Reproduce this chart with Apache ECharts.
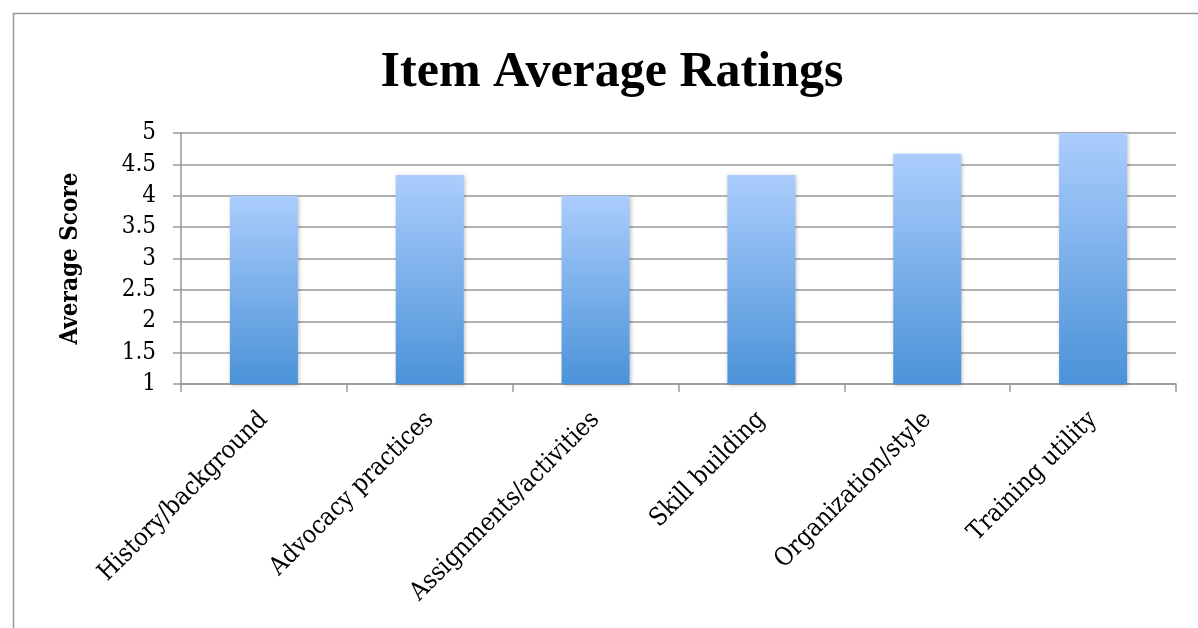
<!DOCTYPE html>
<html>
<head>
<meta charset="utf-8">
<script src="https://cdn.jsdelivr.net/npm/echarts@6/dist/echarts.min.js"></script>
<style>
html,body{margin:0;padding:0;background:#fff;}
#c{width:1198px;height:628px;}
</style>
</head>
<body>
<div id="c"></div>
<script>
var categories = ["History/background","Advocacy practices","Assignments/activities","Skill building","Organization/style","Training utility"];
var values = [4.0, 4.33, 4.0, 4.33, 4.67, 5.0];
var yMin = 1, yMax = 5, yStep = 0.5;

var serif = '"Liberation Serif", "DejaVu Serif", serif';
var labelFont = '"DejaVu Serif Condensed", "DejaVu Serif", serif';
var chart = echarts.init(document.getElementById('c'), null, {renderer:'canvas'});
chart.setOption({
  animation: false,
  backgroundColor: '#fff',
  graphic: [{
    type: 'rect', left: 11, top: 11, shape: {width: 1300, height: 700},
    style: {fill: 'none', stroke: '#999', lineWidth: 1.5}, z: -1
  }],
  title: {
    text: 'Item Average Ratings', left: 607, top: 43, textAlign: 'center',
    textStyle: {fontFamily: serif, fontWeight: 'bold', fontSize: 50, color: '#000'}
  },
  grid: {left: 181, right: 22, top: 133, bottom: 244, containLabel: false},
  xAxis: {
    type: 'category', data: categories,
    axisLine: {lineStyle: {color: '#999', width: 1.5}},
    axisTick: {show: true, length: 8, lineStyle: {color: '#999', width: 1.5}, alignWithLabel: false},
    axisLabel: {rotate: 45, fontFamily: labelFont, fontSize: 25, color: '#000', margin: 32, interval: 0}
  },
  yAxis: {
    type: 'value', min: yMin, max: yMax, interval: yStep,
    name: 'Average Score', nameLocation: 'middle', nameGap: 98,
    nameTextStyle: {fontFamily: labelFont, fontWeight: 'bold', fontSize: 24, color: '#000'},
    axisLine: {show: true, lineStyle: {color: '#999', width: 1.5}},
    axisTick: {show: true, length: 8, lineStyle: {color: '#999', width: 1.5}},
    splitLine: {show: true, lineStyle: {color: '#999', width: 1.5}},
    axisLabel: {fontFamily: labelFont, fontSize: 24, color: '#000', margin: 25}
  },
  series: [{
    type: 'bar', data: values, barWidth: 68,
    itemStyle: {
      color: new echarts.graphic.LinearGradient(0, 0, 0, 1, [
        {offset: 0, color: '#abcdfd'},
        {offset: 1, color: '#4b92d8'}
      ]),
      shadowBlur: 4, shadowColor: 'rgba(0,0,0,0.25)', shadowOffsetX: 1, shadowOffsetY: 1
    }
  }]
});
</script>
</body>
</html>
